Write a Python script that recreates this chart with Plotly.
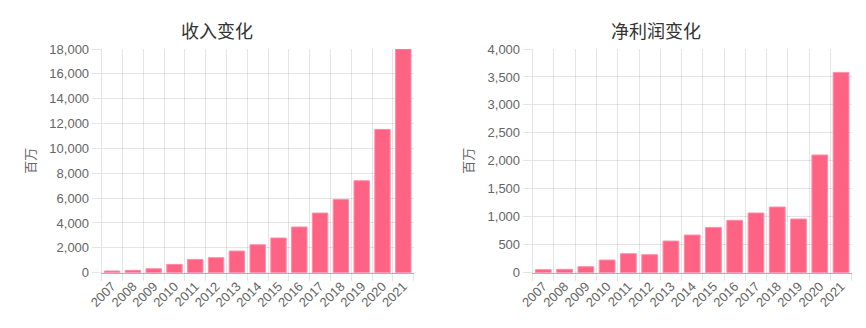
import plotly.graph_objects as go
from plotly.subplots import make_subplots

years = ["2007", "2008", "2009", "2010", "2011", "2012", "2013", "2014",
         "2015", "2016", "2017", "2018", "2019", "2020", "2021"]
revenue = [140, 190, 320, 670, 1070, 1210, 1740, 2250, 2790, 3680,
           4800, 5900, 7400, 11530, 18000]
profit = [54, 60, 107, 226, 340, 322, 566, 673, 810, 936,
          1067, 1174, 960, 2104, 3582]
titles = ["收入变化", "净利润变化"]
y_unit = "百万"

W, H = 866, 328
def fx(px):
    return px / W
def fy(py):
    return (H - py) / H

fig = make_subplots(rows=1, cols=2)

bar_color = "#ff6384"
for i, vals in enumerate([revenue, profit]):
    fig.add_trace(go.Bar(x=years, y=vals, marker=dict(color=bar_color,
                         line=dict(color="rgba(255,140,165,1)", width=1)),
                         showlegend=False, hoverinfo="x+y"), row=1, col=i + 1)

tick_font = dict(family="Liberation Sans, Arial, sans-serif", size=13, color="#666")
grid = "rgba(0,0,0,0.1)"

xdoms = [[fx(101.7), fx(413.7)], [fx(532.7), fx(851.7)]]
ydom = [fy(272.7), fy(49)]
ranges = [[0, 18000], [0, 4000]]
dticks = [2000, 500]

for i in range(2):
    xa = "xaxis" if i == 0 else "xaxis2"
    ya = "yaxis" if i == 0 else "yaxis2"
    fig.layout[xa].update(domain=xdoms[i], type="category", tickson="boundaries",
                          showgrid=True, gridcolor=grid, gridwidth=1,
                          ticks="outside", ticklen=7, tickcolor=grid,
                          tickangle=-45, tickfont=tick_font, automargin=False,
                          showline=True, linecolor="rgba(0,0,0,0.3)", linewidth=1,
                          fixedrange=True)
    fig.layout[ya].update(domain=ydom, range=ranges[i], dtick=dticks[i],
                          tickformat=",", showgrid=True, gridcolor=grid,
                          ticks="outside", ticklen=9, tickcolor=grid,
                          tickfont=tick_font, showline=True, linecolor=grid,
                          zeroline=False, automargin=False,
                          title=dict(text=y_unit, standoff=10,
                                     font=dict(family="Noto Sans CJK SC", size=13, color="#666")),
                          fixedrange=True)

centers = [217, 656]
for i in range(2):
    fig.add_annotation(text=titles[i], x=fx(centers[i]), y=fy(30), xref="paper", yref="paper",
                       showarrow=False, xanchor="center", yanchor="middle",
                       font=dict(family="Noto Sans CJK SC", size=18, color="#333"))

fig.update_layout(width=W, height=H, margin=dict(l=0, r=0, t=0, b=0, autoexpand=False),
                  plot_bgcolor="white", paper_bgcolor="white", bargap=0.26)

fig.write_html("out.html")
